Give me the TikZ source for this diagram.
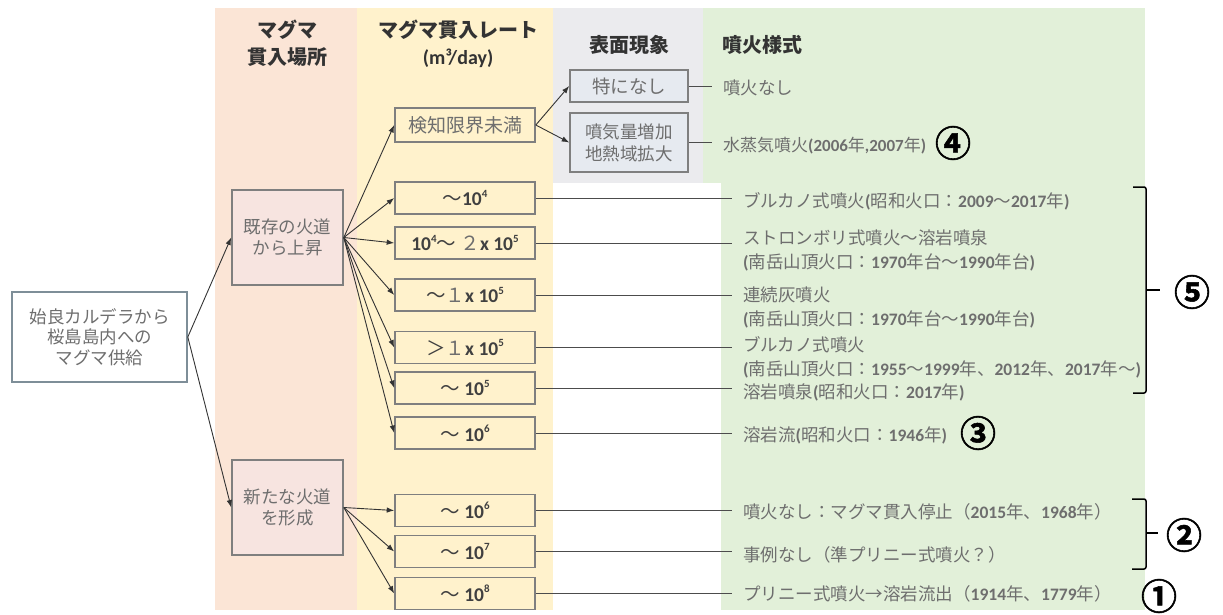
\documentclass[tikz,border=0pt]{standalone}
\usepackage{fontspec}
\setmainfont{Noto Sans CJK JP}
\newfontfamily\calf{Carlito}
\newfontface\circf{Noto Sans CJK JP Bold}[FakeBold=1.5]
\usetikzlibrary{arrows.meta}
\newcommand\nm[1]{{\calf\bfseries #1}}
\newcommand\supn[1]{\raisebox{0.45em}{\fontsize{11}{11}\selectfont #1}}
\definecolor{pinkbg}{HTML}{FBE5D6}
\definecolor{yelbg}{HTML}{FFF2CC}
\definecolor{graybg}{HTML}{EBEBEE}
\definecolor{grnbg}{HTML}{E2F0D9}
\definecolor{boxc}{HTML}{7F7F7F}
\definecolor{lboxc}{HTML}{7E8E98}
\definecolor{txtc}{HTML}{6E6E6E}
\definecolor{hdc}{HTML}{333333}
\definecolor{numc}{HTML}{404040}
\definecolor{kfill}{HTML}{F7E4E0}
\definecolor{sfill}{HTML}{E6EAF0}
\tikzset{
  bx/.style={draw=boxc, line width=1.6pt, inner sep=0pt, text=txtc, align=center,
    font=\fontsize{17.5}{20.5}\selectfont},
  rbx/.style={bx, fill=yelbg, minimum width=140pt, minimum height=32pt, text=numc,
    font=\fontsize{19.5}{22}\selectfont},
  hd/.style={text=hdc, align=center, inner sep=0pt, font=\fontsize{20}{27}\selectfont\bfseries},
  gt/.style={anchor=west, inner xsep=11pt, inner ysep=0pt, text=txtc, align=left,
    font=\fontsize{17.5}{24.5}\selectfont},
  arr/.style={draw=black!80, line width=0.9pt, -{Latex[length=7.5pt,width=5.5pt]}},
  ln/.style={draw=black!70, line width=1pt},
  cn/.style={inner sep=0pt, text=black, font=\fontsize{36}{36}\circf},
  brk/.style={draw=black, line width=1.5pt}
}
\begin{document}
\begin{tikzpicture}[x=1pt,y=-1pt]
\useasboundingbox (0,0) rectangle (1223,614);
% column backgrounds
\fill[pinkbg] (215,8) rectangle (357,610);
\fill[yelbg] (357,8) rectangle (553,610);
\fill[graybg] (553,8) rectangle (703,183);
\fill[grnbg] (703,8) rectangle (1145,610);
\fill[white] (553,183) rectangle (721,610);
% headers
\node[hd] (h1) at (287,43.5) {マグマ\\貫入場所};
\node[hd] (h2) at (458,43.5) {マグマ貫入レート\\\nm{(m³/day)}};
\node[hd] (h3) at (629,45) {表面現象};
\node[hd,anchor=west] (h4) at (722,45) {噴火様式};
% source boxes
\node[bx, fill=white, draw=lboxc, minimum width=175pt, minimum height=90pt] (L) at (99.5,337) {始良カルデラから\\桜島島内への\\マグマ供給};
\node[bx, fill=kfill, minimum width=111pt, minimum height=95pt] (K) at (287.5,237.5) {既存の火道\\から上昇};
\node[bx, fill=kfill, minimum width=111pt, minimum height=95pt] (N) at (287.5,507.5) {新たな火道\\を形成};
% rate boxes
\node[rbx, text=txtc, font=\fontsize{19}{22}\selectfont, minimum height=34pt] (r0) at (465,125) {検知限界未満};
\node[rbx] (r1) at (465,198) {～\nm{10\supn{4}}};
\node[rbx] (r2) at (465,243) {\nm{10\supn{4}}～ {\color{txtc}２}\nm{x 10\supn{5}}};
\node[rbx] (r3) at (465,295) {～{\color{txtc}１}\nm{x 10\supn{5}}};
\node[rbx] (r4) at (465,347.5) {＞{\color{txtc}１}\nm{x 10\supn{5}}};
\node[rbx] (r5) at (465,388) {～ \nm{10\supn{5}}};
\node[rbx] (r6) at (465,433) {～ \nm{10\supn{6}}};
\node[rbx] (r7) at (465,510.5) {～ \nm{10\supn{6}}};
\node[rbx] (r8) at (465,551.5) {～ \nm{10\supn{7}}};
\node[rbx] (r9) at (465,593.5) {～ \nm{10\supn{8}}};
% surface phenomena boxes
\node[bx, fill=sfill, minimum width=118pt, minimum height=32pt, font=\fontsize{18.5}{21}\selectfont] (s0) at (629,86) {特になし};
\node[bx, fill=sfill, minimum width=118pt, minimum height=59pt, font=\fontsize{17.5}{22}\selectfont] (s1) at (629,142.5) {噴気量増加\\地熱域拡大};
% eruption style texts
\node[gt] (t0) at (712,88) {噴火なし};
\node[gt, font=\fontsize{17}{24}\selectfont] (tS) at (712,146) {水蒸気噴火\nm{(2006}年\nm{,2007}年\nm{)}};
\node[gt] (t1) at (732,201) {ブルカノ式噴火\nm{(}昭和火口：\nm{2009}～\nm{2017}年\nm{)}};
\node[gt] (t2) at (732,250.5) {ストロンボリ式噴火～溶岩噴泉\\\nm{(}南岳山頂火口：\nm{1970}年台～\nm{1990}年台\nm{)}};
\node[gt] (t3) at (732,307.5) {連続灰噴火\\\nm{(}南岳山頂火口：\nm{1970}年台～\nm{1990}年台\nm{)}};
\node[gt] (t4) at (732,357.5) {ブルカノ式噴火\\\nm{(}南岳山頂火口：\nm{1955}～\nm{1999}年、\nm{2012}年、\nm{2017}年～\nm{)}};
\node[gt] (t5) at (732,392) {溶岩噴泉\nm{(}昭和火口：\nm{2017}年\nm{)}};
\node[gt] (t6) at (732,435) {溶岩流\nm{(}昭和火口：\nm{1946}年\nm{)}};
\node[gt] (t7) at (732,512) {噴火なし：マグマ貫入停止（\nm{2015}年、\nm{1968}年）};
\node[gt] (t8) at (732,555) {事例なし（準プリニー式噴火？）};
\node[gt] (t9) at (732,594) {プリニー式噴火→溶岩流出（\nm{1914}年、\nm{1779}年）};
% circled numbers
\node[cn] (c4) at (953,143) {④};
\node[cn] (c5) at (1192,292) {⑤};
\node[cn] (c3) at (978,433) {③};
\node[cn] (c2) at (1184,535) {②};
\node[cn] (c1) at (1159,596) {①};
% arrows
\draw[arr] (L.east) -- (K.west);
\draw[arr] (L.east) -- (N.west);
\foreach \r in {r0,r1,r2,r3,r4,r5,r6} {\draw[arr] (K.east) -- (\r.west);}
\foreach \r in {r7,r8,r9} {\draw[arr] (N.east) -- (\r.west);}
\draw[arr] (r0.east) -- (s0.west);
\draw[arr] (r0.east) -- (s1.west);
% plain connectors
\draw[ln] (s0.east) -- (s0.east -| t0.west);
\draw[ln] (s1.east) -- (s1.east -| tS.west);
\foreach \i in {1,...,9} {\draw[ln] (r\i.east) -- (r\i.east -| t\i.west);}
% brackets
\draw[brk, rounded corners=2pt] (1133,187) -- (1146,187) -- (1146,393) -- (1133,393);
\draw[brk] (1146,290) -- (1160,290);
\draw[brk, rounded corners=2pt] (1132,499) -- (1146,499) -- (1146,569) -- (1132,569);
\draw[brk] (1146,533) -- (1158,533);
\end{tikzpicture}
\end{document}
